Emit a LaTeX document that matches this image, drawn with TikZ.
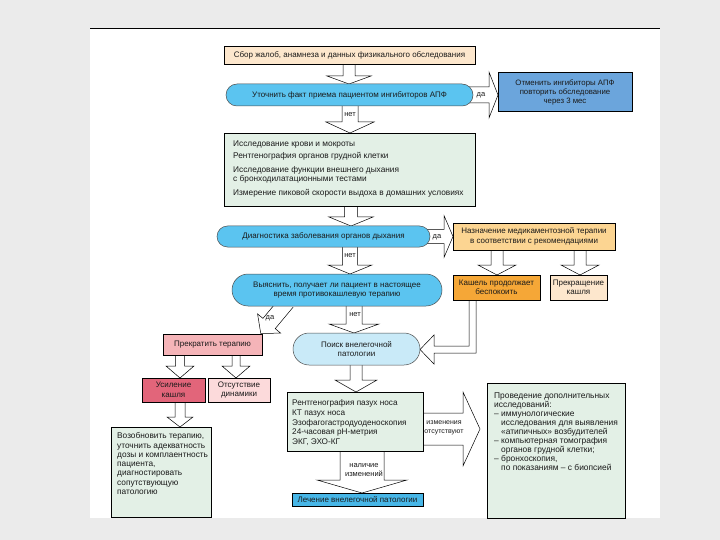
\documentclass[tikz,border=0pt]{standalone}
\usepackage{fontspec}
\setmainfont{Liberation Sans}
\definecolor{bgc}{HTML}{EBEBEB}
\definecolor{peach}{HTML}{FDE7CD}
\definecolor{capblue}{HTML}{5BC4F0}
\definecolor{paleblue}{HTML}{C9EAF8}
\definecolor{midblue}{HTML}{6BA5DC}
\definecolor{greenbox}{HTML}{E3F0E6}
\definecolor{lorange}{HTML}{FCD592}
\definecolor{dorange}{HTML}{F5A737}
\definecolor{pinkbox}{HTML}{F5B4B8}
\definecolor{redbox}{HTML}{E2657A}
\definecolor{palepink}{HTML}{FCDADB}
\definecolor{lblue}{HTML}{47B6E7}
\definecolor{ink}{HTML}{1A1A1A}
\pgfdeclarelayer{page}
\pgfdeclarelayer{arrows}
\pgfsetlayers{page,arrows,main}
% block arrow: x y angle length shafthalf headhalf headlength
\newcommand{\blockarr}[7]{%
  \begin{scope}[shift={(#1,#2)}, rotate=#3]
    \path[fill=white, draw=black, line width=0.5pt]
      (0,-#5) -- ({#4-#7},-#5) -- ({#4-#7},-#6) -- (#4,0) --
      ({#4-#7},#6) -- ({#4-#7},#5) -- (0,#5);
  \end{scope}}
\begin{document}
\begin{tikzpicture}[x=1pt,y=-1pt,
  font=\fontsize{8}{9.5}\selectfont, text=ink,
  rbox/.style={draw=black, line width=0.6pt, inner sep=0pt, align=center},
  capsule/.style={draw=black!70, line width=0.5pt, inner sep=0pt, align=center, rounded corners=#1},
  lbl/.style={inner sep=0pt, align=center, font=\fontsize{7.5}{9.5}\selectfont},
  txt/.style={inner sep=0pt, align=left, anchor=north west}]
\useasboundingbox (0,0) rectangle (720,540);
\begin{pgfonlayer}{page}
  \fill[bgc] (0,0) rectangle (720,540);
  \fill[white] (90,28) rectangle (660,518);
  \draw[line width=0.8pt] (90,28) -- (660,28);
\end{pgfonlayer}

% nodes
\node[rbox, fill=peach, minimum width=251pt, minimum height=18pt] (b1) at (349.5,55.5)
  {Сбор жалоб, анамнеза и данных физикального обследования};
\node[capsule=11pt, fill=capblue, minimum width=247pt, minimum height=22pt] (e2) at (349.5,95)
  {Уточнить факт приема пациентом ингибиторов АПФ};
\node[rbox, fill=midblue, minimum width=134pt, minimum height=39pt,
  font=\fontsize{7.8}{9}\selectfont] (b3) at (565,92)
  {Отменить ингибиторы АПФ\\повторить обследование\\через 3 мес};
\node[rbox, fill=greenbox, minimum width=251pt, minimum height=73pt] (b4) at (349.5,169.5) {};
\node[txt, font=\fontsize{8.3}{9}\selectfont] (b4t) at (233,140.5)
  {Исследование крови и мокроты\\[3pt]
   Рентгенография органов грудной клетки\\[5pt]
   Исследование функции внешнего дыхания\\
   с бронходилатационными тестами\\[5pt]
   Измерение пиковой скорости выдоха в домашних условиях};
\node[capsule=10.5pt, fill=capblue, minimum width=213pt, minimum height=21pt] (e5) at (323.5,236.5)
  {Диагностика заболевания органов дыхания};
\node[rbox, fill=lorange, minimum width=162pt, minimum height=27pt] (b6) at (534,236.5)
  {Назначение медикаментозной терапии\\в соответствии с рекомендациями};
\node[rbox, fill=dorange, minimum width=87pt, minimum height=25pt] (b7) at (496.5,287.5)
  {Кашель продолжает\\беспокоить};
\node[rbox, fill=peach, minimum width=57pt, minimum height=25pt] (b8) at (578.5,287.5)
  {Прекращение\\кашля};
\node[capsule=16pt, fill=capblue, minimum width=210pt, minimum height=32pt] (e9) at (337,290)
  {Выяснить, получает ли пациент в настоящее\\время противокашлевую терапию};
\node[capsule=16pt, fill=paleblue, minimum width=127pt, minimum height=32pt] (e10) at (356.5,349)
  {Поиск внелегочной\\патологии};
\node[rbox, fill=pinkbox, minimum width=99pt, minimum height=21pt] (b11) at (212.5,344.5)
  {Прекратить терапию};
\node[rbox, fill=redbox, minimum width=63pt, minimum height=24pt] (b12) at (173.5,390)
  {Усиление\\кашля};
\node[rbox, fill=palepink, minimum width=62pt, minimum height=24pt] (b13) at (239,390)
  {Отсутствие\\динамики};
\node[rbox, fill=greenbox, minimum width=100pt, minimum height=90pt] (b14) at (161,472) {};
\node[txt, font=\fontsize{8.3}{9.3}\selectfont] (b14t) at (117,432.5)
  {Возобновить терапию,\\уточнить адекватность\\дозы и комплаентность\\пациента,\\диагностировать\\сопутствующую\\патологию};
\node[rbox, fill=greenbox, minimum width=136pt, minimum height=59pt] (b15) at (355,421.5) {};
\node[txt, font=\fontsize{8.2}{9.7}\selectfont] (b15t) at (292,399.5)
  {Рентгенография пазух носа\\КТ пазух носа\\Эзофагогастродуоденоскопия\\24-часовая pH-метрия\\ЭКГ, ЭХО-КГ};
\node[rbox, fill=lblue, minimum width=131pt, minimum height=13pt] (b16) at (357.5,499.5)
  {Лечение внелегочной патологии};
\node[rbox, fill=greenbox, minimum width=138pt, minimum height=135pt] (b17) at (556,450.5) {};
\node[txt, font=\fontsize{8.4}{9}\selectfont] (b17t) at (494,392.5)
  {Проведение дополнительных\\
   исследований:\\
   – иммунологические\\
   \hphantom{– }исследования для выявления\\
   \hphantom{– }«атипичных» возбудителей\\
   – компьютерная томография\\
   \hphantom{– }органов грудной клетки;\\
   – бронхоскопия,\\
   \hphantom{– }по показаниям – с биопсией};

% block arrows (behind the nodes)
\begin{pgfonlayer}{arrows}
  \blockarr{349}{63}{-90}{21}{6}{22}{8}        % b1 -> e2
  \blockarr{468}{95}{0}{30}{8}{23}{9}          % e2 -> b3
  \blockarr{350}{104}{-90}{29}{8}{24}{11}      % e2 -> b4
  \blockarr{351}{205}{-90}{21}{6.5}{22}{9}     % b4 -> e5
  \blockarr{427}{236.5}{0}{26}{7}{21}{9}       % e5 -> b6
  \blockarr{350}{245}{-90}{29}{7.5}{22}{9}     % e5 -> e9
  \blockarr{497}{249}{-90}{26}{6}{19}{10}      % b6 -> b7
  \blockarr{580}{249}{-90}{26}{6}{19}{10}      % b6 -> b8
  \blockarr{287}{302}{-129.8}{41}{8}{15}{13}   % e9 -> b11
  \blockarr{354}{304}{-90}{29}{8}{25}{9}       % e9 -> e10
  \blockarr{356}{363}{-90}{29}{6}{21}{12}      % e10 -> b15
  \blockarr{422}{429}{0}{58}{16}{37}{17}       % b15 -> b17
  \blockarr{362}{450}{-90}{43}{22}{45}{13}     % b15 -> b16
  \blockarr{180}{354}{-90}{24}{4.5}{14}{12}    % b11 -> b12
  \blockarr{236}{354}{-90}{24}{4}{14}{12}      % b11 -> b13
  \blockarr{180}{401}{-90}{26}{5}{13}{10}      % b12 -> b14
  % b7 -> e10 (bent)
  \path[fill=white, draw=black, line width=0.5pt]
    (469,299) -- (469,346) -- (434,346) -- (434,335) -- (420,349.5) --
    (434,364) -- (434,353) -- (476,353) -- (476,299);
\end{pgfonlayer}

% arrow labels
\node[lbl] (l1) at (481,95) {да};
\node[lbl] (l2) at (350,115) {нет};
\node[lbl] (l3) at (437,237) {да};
\node[lbl] (l4) at (350,256) {нет};
\node[lbl] (l5) at (270,318) {да};
\node[lbl] (l6) at (355,315) {нет};
\node[lbl, font=\fontsize{7}{9}\selectfont] (l7) at (444,428) {изменения\\отсутствуют};
\node[lbl] (l8) at (364,470) {наличие\\изменений};
\end{tikzpicture}
\end{document}
